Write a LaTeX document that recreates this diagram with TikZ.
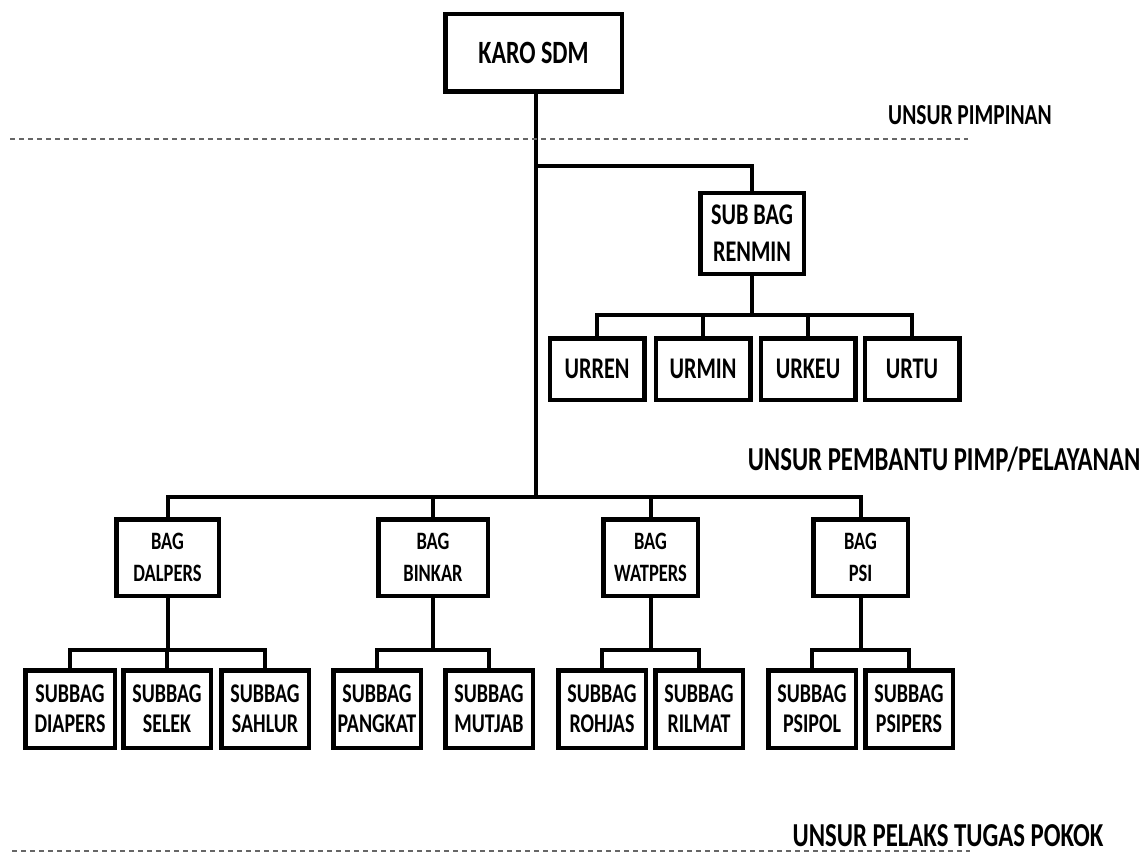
\documentclass[tikz,border=0pt]{standalone}
\usepackage{fontspec}
\setmainfont{Carlito}[FakeStretch=0.74]
\usetikzlibrary{backgrounds}
\begin{document}
\begin{tikzpicture}[x=1pt,y=-1pt,
  box/.style={draw, line width=4.5pt, fill=white, align=center, inner sep=0pt},
  conn/.style={line width=4pt},
  dashline/.style={draw=black!60, line width=2pt, dash pattern=on 5pt off 4pt},
  fkaro/.style={font=\fontsize{32.5}{35}\selectfont\bfseries},
  fren/.style={font=\fontsize{30}{37}\selectfont\bfseries},
  fur/.style={font=\fontsize{30}{32}\selectfont\bfseries},
  fbag/.style={font=\fontsize{25}{32}\selectfont\bfseries},
  fsub/.style={font=\fontsize{27}{30}\selectfont\bfseries},
  flabel/.style={font=\fontsize{33.5}{35}\selectfont\bfseries, inner sep=0pt},
  flabelsmall/.style={font=\fontsize{29}{31}\selectfont\bfseries, inner sep=0pt},
  bagbox/.style={box, fbag, minimum height=76.5pt},
  subbox/.style={box, fsub, minimum height=77.5pt, minimum width=87.5pt},
  urbox/.style={box, fur, minimum height=61.5pt, minimum width=94.5pt}]
\useasboundingbox (0,0) rectangle (1148,853);

% dashed separators
\coordinate (d1a) at (10,139);
\coordinate (d1b) at (968,139);
\coordinate (d2a) at (12,851);
\coordinate (d2b) at (970,851);
\draw[dashline] (d1a) -- (d1b);
\draw[dashline] (d2a) -- (d2b);

% labels
\node[flabelsmall] (lpimp) at (970,115) {UNSUR PIMPINAN};
\node[flabel] (lpemb) at (944,460) {UNSUR PEMBANTU PIMP/PELAYANAN};
\node[flabel] (lpel) at (948,836) {UNSUR PELAKS TUGAS POKOK};

% boxes
\node[box, fkaro, minimum width=176.5pt, minimum height=77.5pt] (karo) at (533.5,53) {KARO SDM};
\node[box, fren, minimum width=103.5pt, minimum height=80.5pt] (renmin) at (752,233.5) {SUB BAG\\RENMIN};

\node[urbox] (urren) at (597,369) {URREN};
\node[urbox] (urmin) at (703,369) {URMIN};
\node[urbox] (urkeu) at (808,369) {URKEU};
\node[urbox] (urtu)  at (912,369) {URTU};

\node[bagbox, minimum width=102.5pt] (dalpers) at (167.5,557.5) {BAG\\DALPERS};
\node[bagbox, minimum width=109.5pt] (binkar)  at (433,557.5) {BAG\\BINKAR};
\node[bagbox, minimum width=94.5pt]  (watpers) at (650.5,557.5) {BAG\\WATPERS};
\node[bagbox, minimum width=94.5pt]  (psi)     at (860.5,557.5) {BAG\\PSI};

\node[subbox, minimum width=89.5pt] (diapers) at (70,709) {SUBBAG\\DIAPERS};
\node[subbox] (selek)   at (167,709) {SUBBAG\\SELEK};
\node[subbox] (sahlur)  at (265,709) {SUBBAG\\SAHLUR};
\node[subbox] (pangkat) at (377,709) {SUBBAG\\PANGKAT};
\node[subbox] (mutjab)  at (489,709) {SUBBAG\\MUTJAB};
\node[subbox] (rohjas)  at (602,709) {SUBBAG\\ROHJAS};
\node[subbox] (rilmat)  at (699,709) {SUBBAG\\RILMAT};
\node[subbox] (psipol)  at (812,709) {SUBBAG\\PSIPOL};
\node[subbox] (psipers) at (909,709) {SUBBAG\\PSIPERS};

\coordinate (t1) at (536,166);
\coordinate (t2) at (536,497);
\coordinate (rbus) at (0,315);
\coordinate (sb) at (0,650);

\begin{pgfonlayer}{background}
% trunk
\draw[conn] (karo.south -| t1) -- (t2);
\draw[conn] (t1) -| (renmin.north);

% renmin bus
\draw[conn] (renmin.south) -- (renmin.south |- rbus);
\draw[conn] (urren.north) |- (renmin.south |- rbus) -| (urtu.north);
\draw[conn] (urmin.north) -- (urmin.north |- rbus);
\draw[conn] (urkeu.north) -- (urkeu.north |- rbus);

% bag bus
\draw[conn] (dalpers.north) |- (t2) -| (psi.north);
\draw[conn] (binkar.north) -- (binkar.north |- t2);
\draw[conn] (watpers.north) -- (watpers.north |- t2);

% sub buses
\draw[conn] (dalpers.south) -- (dalpers.south |- sb);
\draw[conn] (diapers.north) |- (dalpers.south |- sb) -| (sahlur.north);
\draw[conn] (selek.north) -- (selek.north |- sb);

\draw[conn] (binkar.south) -- (binkar.south |- sb);
\draw[conn] (pangkat.north) |- (binkar.south |- sb) -| (mutjab.north);

\draw[conn] (watpers.south) -- (watpers.south |- sb);
\draw[conn] (rohjas.north) |- (watpers.south |- sb) -| (rilmat.north);

\draw[conn] (psi.south) -- (psi.south |- sb);
\draw[conn] (psipol.north) |- (psi.south |- sb) -| (psipers.north);
\end{pgfonlayer}
\end{tikzpicture}
\end{document}
